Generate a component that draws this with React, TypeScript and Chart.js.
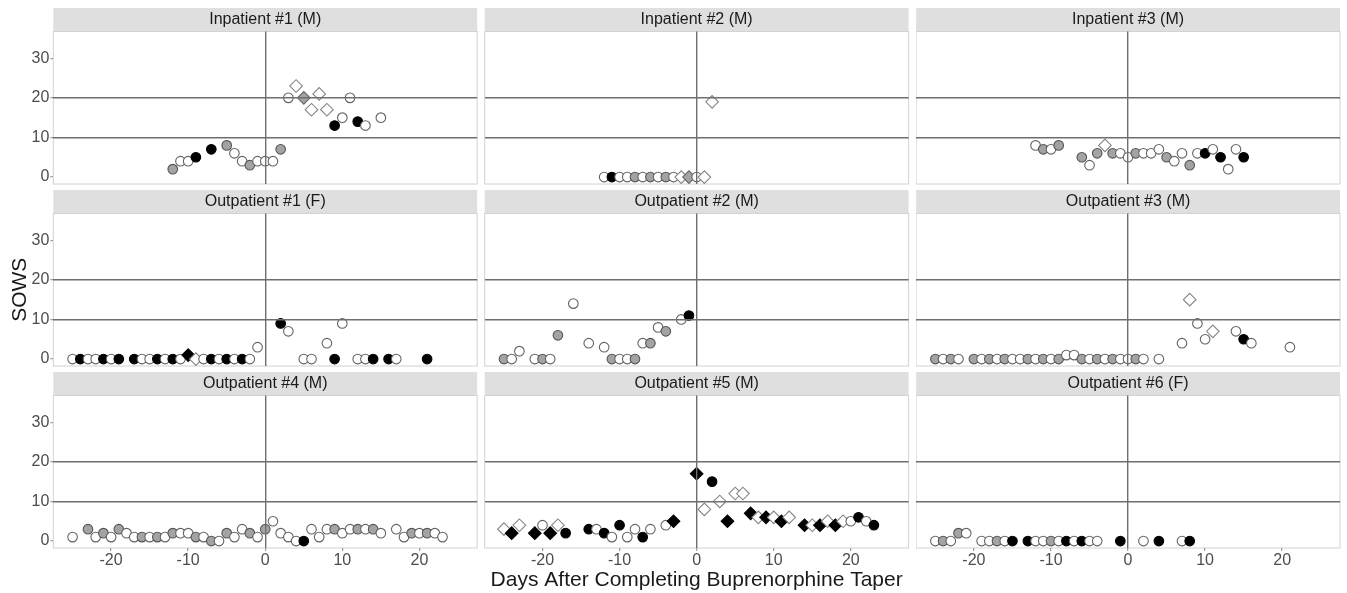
import React, { useEffect, useRef } from "react";
import { Chart, registerables } from "chart.js";

Chart.register(...registerables);

const FONT = "'Liberation Sans', Arial, Helvetica, sans-serif";

// ---------------- data ----------------
const panelTitles = [
  "Inpatient #1 (M)",
  "Inpatient #2 (M)",
  "Inpatient #3 (M)",
  "Outpatient #1 (F)",
  "Outpatient #2 (M)",
  "Outpatient #3 (M)",
  "Outpatient #4 (M)",
  "Outpatient #5 (M)",
  "Outpatient #6 (F)",
];

const xTicks = [-20, -10, 0, 10, 20];
const yTicks = [0, 10, 20, 30];
const xRefLines = [0];
const yRefLines = [10, 20];
const xTitle = "Days After Completing Buprenorphine Taper";
const yTitle = "SOWS";

// marker codes: oc/gc/bc = open/grey/black circle, od/gd/bd = open/grey/black diamond
const inp1Days = [-12, -11, -10, -9, -7, -5, -4, -3, -2, -1, 0, 1, 2, 3, 4, 5, 6, 7, 8, 9, 10, 11, 12, 13, 15];
const inp1Sows = [2, 4, 4, 5, 7, 8, 6, 4, 3, 4, 4, 4, 7, 20, 23, 20, 17, 21, 17, 13, 15, 20, 14, 13, 15];
const inp1Marks = ["gc", "oc", "oc", "bc", "bc", "gc", "oc", "oc", "gc", "oc", "oc", "oc", "gc", "oc", "od", "gd", "od", "od", "od", "bc", "oc", "oc", "bc", "oc", "oc"];

const inp2Days = [-12, -11, -10, -9, -8, -7, -6, -5, -4, -3, -2, -1, 0, 1, 2];
const inp2Sows = [0, 0, 0, 0, 0, 0, 0, 0, 0, 0, 0, 0, 0, 0, 19];
const inp2Marks = ["oc", "bc", "oc", "oc", "gc", "oc", "gc", "oc", "gc", "oc", "od", "gd", "oc", "od", "od"];

const inp3Days = [-12, -11, -10, -9, -6, -5, -4, -3, -2, -1, 0, 1, 2, 3, 4, 5, 6, 7, 8, 9, 10, 11, 12, 13, 14, 15];
const inp3Sows = [8, 7, 7, 8, 5, 3, 6, 8, 6, 6, 5, 6, 6, 6, 7, 5, 4, 6, 3, 6, 6, 7, 5, 2, 7, 5];
const inp3Marks = ["oc", "gc", "oc", "gc", "gc", "oc", "gc", "od", "gc", "oc", "oc", "gc", "oc", "oc", "oc", "gc", "oc", "oc", "gc", "oc", "bc", "oc", "bc", "oc", "oc", "bc"];

const out1Days = [-25, -24, -23, -22, -21, -20, -19, -17, -16, -15, -14, -13, -12, -11, -10, -9, -8, -7, -6, -5, -4, -3, -2, -1, 2, 3, 5, 6, 8, 9, 10, 12, 13, 14, 16, 17, 21];
const out1Sows = [0, 0, 0, 0, 0, 0, 0, 0, 0, 0, 0, 0, 0, 0, 1, 0, 0, 0, 0, 0, 0, 0, 0, 3, 9, 7, 0, 0, 4, 0, 9, 0, 0, 0, 0, 0, 0];
const out1Marks = ["oc", "bc", "oc", "oc", "bc", "oc", "bc", "bc", "oc", "oc", "bc", "oc", "bc", "oc", "bd", "od", "oc", "bc", "oc", "bc", "oc", "bc", "oc", "oc", "bc", "oc", "oc", "oc", "oc", "bc", "oc", "oc", "oc", "bc", "bc", "oc", "bc"];

const out2Days = [-25, -24, -23, -21, -20, -19, -18, -16, -14, -12, -11, -10, -9, -8, -7, -6, -5, -4, -2, -1];
const out2Sows = [0, 0, 2, 0, 0, 0, 6, 14, 4, 3, 0, 0, 0, 0, 4, 4, 8, 7, 10, 11];
const out2Marks = ["gc", "oc", "oc", "oc", "gc", "oc", "gc", "oc", "oc", "oc", "gc", "oc", "oc", "gc", "oc", "gc", "oc", "gc", "oc", "bc"];

const out3Days = [-25, -24, -23, -22, -20, -19, -18, -17, -16, -15, -14, -13, -12, -11, -10, -9, -8, -7, -6, -5, -4, -3, -2, -1, 0, 1, 2, 4, 7, 8, 9, 10, 11, 14, 15, 16, 21];
const out3Sows = [0, 0, 0, 0, 0, 0, 0, 0, 0, 0, 0, 0, 0, 0, 0, 0, 1, 1, 0, 0, 0, 0, 0, 0, 0, 0, 0, 0, 4, 15, 9, 5, 7, 7, 5, 4, 3];
const out3Marks = ["gc", "oc", "gc", "oc", "gc", "oc", "gc", "oc", "gc", "oc", "oc", "gc", "oc", "gc", "oc", "gc", "oc", "oc", "gc", "oc", "gc", "oc", "gc", "oc", "oc", "gc", "oc", "oc", "oc", "od", "oc", "oc", "od", "oc", "bc", "oc", "oc"];

const out4Days = [-25, -23, -22, -21, -20, -19, -18, -17, -16, -15, -14, -13, -12, -11, -10, -9, -8, -7, -6, -5, -4, -3, -2, -1, 0, 1, 2, 3, 4, 5, 6, 7, 8, 9, 10, 11, 12, 13, 14, 15, 17, 18, 19, 20, 21, 22, 23];
const out4Sows = [1, 3, 1, 2, 1, 3, 2, 1, 1, 1, 1, 1, 2, 2, 2, 1, 1, 0, 0, 2, 1, 3, 2, 1, 3, 5, 2, 1, 0, 0, 3, 1, 3, 3, 2, 3, 3, 3, 3, 2, 3, 1, 2, 2, 2, 2, 1];
const out4Marks = ["oc", "gc", "oc", "gc", "oc", "gc", "oc", "oc", "gc", "oc", "gc", "oc", "gc", "oc", "oc", "gc", "oc", "gc", "oc", "gc", "oc", "oc", "gc", "oc", "gc", "oc", "oc", "oc", "oc", "bc", "oc", "oc", "oc", "gc", "oc", "oc", "gc", "oc", "gc", "oc", "oc", "oc", "gc", "oc", "gc", "oc", "oc"];

const out5Days = [-25, -24, -23, -21, -20, -19, -18, -17, -14, -13, -12, -11, -10, -9, -8, -7, -6, -4, -3, 0, 1, 2, 3, 4, 5, 6, 7, 8, 9, 10, 11, 12, 14, 15, 16, 17, 18, 19, 20, 21, 22, 23];
const out5Sows = [3, 2, 4, 2, 4, 2, 4, 2, 3, 3, 2, 1, 4, 1, 3, 1, 3, 4, 5, 17, 8, 15, 10, 5, 12, 12, 7, 6, 6, 6, 5, 6, 4, 4, 4, 5, 4, 5, 5, 6, 5, 4];
const out5Marks = ["od", "bd", "od", "bd", "oc", "bd", "od", "bc", "bc", "oc", "bc", "oc", "bc", "oc", "oc", "bc", "oc", "oc", "bd", "bd", "od", "bc", "od", "bd", "od", "od", "bd", "od", "bd", "od", "bd", "od", "bd", "od", "bd", "od", "bd", "od", "oc", "bc", "oc", "bc"];

const out6Days = [-25, -24, -23, -22, -21, -19, -18, -17, -16, -15, -13, -12, -11, -10, -9, -8, -7, -6, -5, -4, -1, 2, 4, 7, 8];
const out6Sows = [0, 0, 0, 2, 2, 0, 0, 0, 0, 0, 0, 0, 0, 0, 0, 0, 0, 0, 0, 0, 0, 0, 0, 0, 0];
const out6Marks = ["oc", "gc", "oc", "gc", "oc", "oc", "oc", "gc", "oc", "bc", "bc", "oc", "oc", "gc", "oc", "bc", "oc", "bc", "oc", "oc", "bc", "oc", "bc", "oc", "bc"];

const panelDays = [inp1Days, inp2Days, inp3Days, out1Days, out2Days, out3Days, out4Days, out5Days, out6Days];
const panelSows = [inp1Sows, inp2Sows, inp3Sows, out1Sows, out2Sows, out3Sows, out4Sows, out5Sows, out6Sows];
const panelMarks = [inp1Marks, inp2Marks, inp3Marks, out1Marks, out2Marks, out3Marks, out4Marks, out5Marks, out6Marks];

// ---------------- styles ----------------
const MARK: Record<string, { shape: string; fill: string; line: string; r: number }> = {
  oc: { shape: "circle", fill: "#ffffff", line: "#636363", r: 4.8 },
  gc: { shape: "circle", fill: "#a3a3a3", line: "#555555", r: 4.8 },
  bc: { shape: "circle", fill: "#000000", line: "#000000", r: 4.8 },
  od: { shape: "rectRot", fill: "#ffffff", line: "#858585", r: 6.3 },
  gd: { shape: "rectRot", fill: "#a3a3a3", line: "#666666", r: 6.3 },
  bd: { shape: "rectRot", fill: "#000000", line: "#000000", r: 6.3 },
};

const STRIP_H = 23.5;
const PLOT_H = 152.5;
const PLOT_W = 423.9;
const COL_STEP = 431.4;
const PLOT_LEFT0 = 53.3;
const PLOT_BOTTOM0 = 184;
const ROW_STEP = 182;
const PAGE_W = 1347;
const PAGE_H = 593;
const REF_COLOR = "#6e6e6e";
const TICK_COLOR = "#4d4d4d";

function geometry(row: number, col: number) {
  const plotLeft = PLOT_LEFT0 + col * COL_STEP;
  const plotRight = plotLeft + PLOT_W;
  const plotBottom = PLOT_BOTTOM0 + row * ROW_STEP;
  const plotTop = plotBottom - PLOT_H;
  const stripTop = plotTop - STRIP_H;
  const left = col === 0 ? 0 : Math.floor(plotLeft);
  const right = Math.min(PAGE_W, Math.ceil(plotRight) + 1);
  const top = Math.floor(stripTop);
  const bottom = row === 2 ? PAGE_H : Math.ceil(plotBottom) + 1;
  const yAxisW = col === 0 ? plotLeft - left : 0;
  const xAxisH = row === 2 ? PAGE_H - plotBottom : 0;
  return {
    left,
    top,
    w: right - left,
    h: bottom - top,
    pad: {
      left: plotLeft - left - yAxisW,
      right: right - plotRight,
      top: stripTop - top,
      bottom: row === 2 ? 0 : bottom - plotBottom,
    },
    yAxisW,
    xAxisH,
  };
}

const stripPlugin = {
  id: "facetStrip",
  beforeDraw(chart: any) {
    const { ctx, chartArea: a } = chart;
    ctx.save();
    ctx.fillStyle = "#ffffff";
    ctx.fillRect(a.left, a.top, a.right - a.left, a.bottom - a.top);
    ctx.fillStyle = "#dfdfdf";
    ctx.fillRect(a.left, a.top - STRIP_H, a.right - a.left, STRIP_H);
    ctx.strokeStyle = "#d2d2d2";
    ctx.lineWidth = 1;
    ctx.strokeRect(a.left, a.top, a.right - a.left, a.bottom - a.top);
    ctx.restore();
  },
};

function Panel({ index }: { index: number }) {
  const ref = useRef<HTMLCanvasElement>(null);
  const row = Math.floor(index / 3);
  const col = index % 3;
  const g = geometry(row, col);

  useEffect(() => {
    const days = panelDays[index];
    const sows = panelSows[index];
    const marks = panelMarks[index];
    const showX = row === 2;
    const showY = col === 0;

    const chart = new Chart(ref.current as HTMLCanvasElement, {
      type: "scatter",
      data: {
        datasets: [
          {
            data: days.map((d, i) => ({ x: d, y: sows[i] })),
            pointStyle: marks.map((m) => MARK[m].shape) as any,
            pointRadius: marks.map((m) => MARK[m].r),
            pointBackgroundColor: marks.map((m) => MARK[m].fill),
            pointBorderColor: marks.map((m) => MARK[m].line),
            pointBorderWidth: 1.1,
            showLine: false,
            clip: 20,
          },
        ],
      },
      options: {
        responsive: false,
        animation: false,
        events: [],
        layout: { padding: g.pad, autoPadding: false },
        plugins: {
          legend: { display: false },
          tooltip: { enabled: false },
          title: {
            display: true,
            text: panelTitles[index],
            position: "top",
            fullSize: false,
            align: "center",
            color: "#1a1a1a",
            font: { family: FONT, size: 16, weight: "normal", lineHeight: STRIP_H / 16 },
            padding: 0,
          },
        },
        scales: {
          x: {
            type: "linear",
            min: -27.5,
            max: 27.5,
            afterBuildTicks: (axis: any) => {
              axis.ticks = xTicks.map((v) => ({ value: v }));
            },
            afterFit: (axis: any) => {
              axis.height = g.xAxisH;
              axis.paddingLeft = 0;
              axis.paddingRight = 0;
            },
            ticks: {
              display: showX,
              autoSkip: false,
              maxRotation: 0,
              padding: 0,
              color: TICK_COLOR,
              font: { family: FONT, size: 16 },
            },
            grid: {
              z: 1,
              drawTicks: showX,
              tickLength: 3,
              tickWidth: 1,
              tickColor: "#8a8a8a",
              lineWidth: 1.4,
              color: (ctx: any) =>
                ctx.tick && xRefLines.includes(ctx.tick.value) ? REF_COLOR : "rgba(0,0,0,0)",
            },
            border: { display: false },
            title: {
              display: row === 2 && col === 1,
              text: xTitle,
              color: "#1a1a1a",
              font: { family: FONT, size: 21 },
              padding: 0,
            },
          },
          y: {
            type: "linear",
            min: -1.75,
            max: 36.75,
            afterBuildTicks: (axis: any) => {
              axis.ticks = yTicks.map((v) => ({ value: v }));
            },
            afterFit: (axis: any) => {
              axis.width = g.yAxisW;
              axis.paddingTop = 0;
              axis.paddingBottom = 0;
            },
            ticks: {
              display: showY,
              autoSkip: false,
              padding: 1,
              color: TICK_COLOR,
              font: { family: FONT, size: 16 },
            },
            grid: {
              z: 1,
              drawTicks: showY,
              tickLength: 3,
              tickWidth: 1,
              tickColor: "#8a8a8a",
              lineWidth: 1.4,
              color: (ctx: any) =>
                ctx.tick && yRefLines.includes(ctx.tick.value) ? REF_COLOR : "rgba(0,0,0,0)",
            },
            border: { display: false },
            title: {
              display: row === 1 && col === 0,
              text: yTitle,
              color: "#1a1a1a",
              font: { family: FONT, size: 21 },
              padding: { top: 8, bottom: 0 },
            },
          },
        },
      } as any,
      plugins: [stripPlugin],
    });
    return () => chart.destroy();
  }, []);

  return (
    <canvas
      ref={ref}
      width={g.w}
      height={g.h}
      style={{ position: "absolute", left: g.left, top: g.top, width: g.w, height: g.h }}
    />
  );
}

export default function App() {
  return (
    <div
      style={{
        position: "fixed",
        left: 0,
        top: 0,
        width: PAGE_W,
        height: PAGE_H,
        background: "#ffffff",
        overflow: "hidden",
      }}
    >
      {panelTitles.map((_, i) => (
        <Panel key={i} index={i} />
      ))}
    </div>
  );
}
